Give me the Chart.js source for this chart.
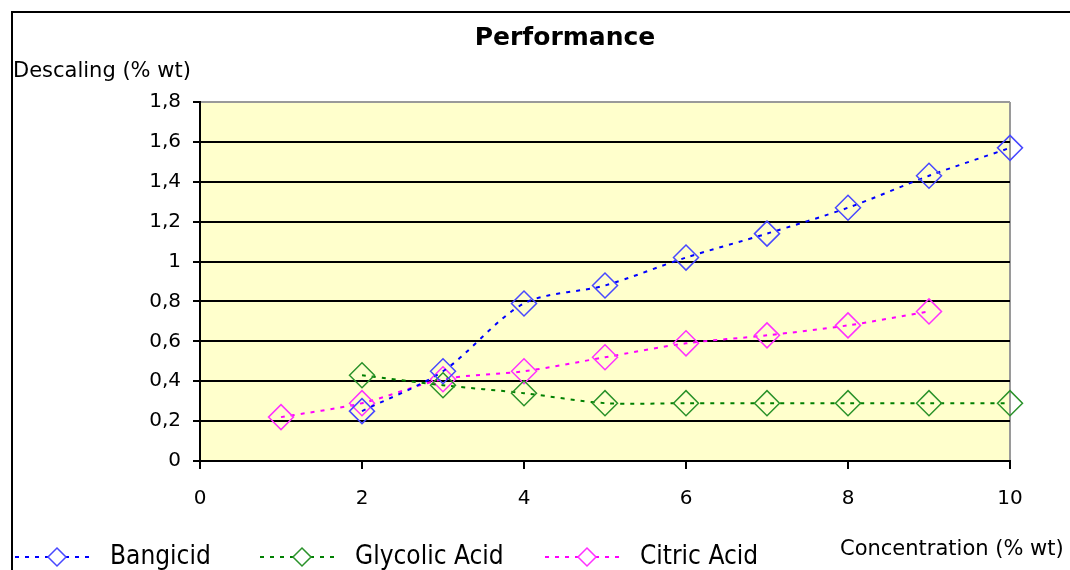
<!DOCTYPE html>
<html>
<head>
<meta charset="utf-8">
<script src="https://cdn.jsdelivr.net/npm/chart.js@4.4.0/dist/chart.umd.min.js"></script>
<style>
  html, body { margin: 0; padding: 0; background: #fff; }
  #wrap { position: relative; width: 1070px; height: 570px; overflow: hidden; }
  #frame { position: absolute; left: 11px; top: 11px; width: 1100px; height: 600px;
           border-left: 2px solid #000; border-top: 2px solid #000; pointer-events: none; }
</style>
</head>
<body>
<div id="wrap">
  <canvas id="chart" width="1070" height="570"></canvas>
  <div id="frame"></div>
</div>
<script>
// concentration (% wt) and descaling (% wt)
const concentrations = [1, 2, 3, 4, 5, 6, 7, 8, 9, 10];
const bangicid = [null, 0.25, 0.45, 0.79, 0.88, 1.02, 1.14, 1.27, 1.43, 1.57];
const glycolic = [null, 0.43, 0.38, 0.34, 0.29, 0.29, 0.29, 0.29, 0.29, 0.29];
const citric = [0.22, 0.29, 0.41, 0.45, 0.52, 0.59, 0.63, 0.68, 0.75, null];
const seriesNames = ['Bangicid', 'Glycolic Acid', 'Citric Acid'];
const xTicks = [0, 2, 4, 6, 8, 10];
const yTicks = [0, 0.2, 0.4, 0.6, 0.8, 1, 1.2, 1.4, 1.6, 1.8];

function points(values) {
    return concentrations
        .map((x, i) => ({ x: x, y: values[i] }))
        .filter(p => p.y !== null);
}

function fmt(v) {
    return String(+v.toFixed(1)).replace('.', ',');
}

const lineColors = ['#0000ff', '#008000', '#ff00ff'];
const markColors = ['#4848ff', '#2a922a', '#ff30ff'];

function makeSet(i, values) {
    return {
        label: seriesNames[i],
        data: points(values),
        borderColor: lineColors[i],
        borderWidth: 2,
        borderDash: [4, 6],
        tension: 0.3,
        pointStyle: 'rectRot',
        pointRadius: 12.5,
        pointHoverRadius: 12.5,
        pointBorderWidth: 1.5,
        pointBorderColor: markColors[i],
        pointBackgroundColor: 'rgba(0,0,0,0)',
        clip: false
    };
}

const decorations = {
    id: 'decorations',
    beforeDraw(chart) {
        const { ctx, chartArea: a } = chart;
        ctx.save();
        ctx.fillStyle = '#ffffcc';
        ctx.fillRect(a.left, a.top, a.right - a.left, a.bottom - a.top);
        ctx.restore();
    },
    afterDraw(chart) {
        const ctx = chart.ctx;
        ctx.save();
        ctx.fillStyle = '#000';
        ctx.font = 'bold 25px "DejaVu Sans"';
        ctx.textAlign = 'center';
        ctx.textBaseline = 'middle';
        ctx.fillText('Performance', 565, 38);

        ctx.font = '21px "DejaVu Sans"';
        ctx.textAlign = 'left';
        ctx.fillText('Descaling (% wt)', 13, 72);
        ctx.fillText('Concentration (% wt)', 840, 550);

        // legend
        const starts = [15, 260, 545];
        chart.data.datasets.forEach((ds, i) => {
            const x0 = starts[i], y = 557;
            ctx.strokeStyle = ds.borderColor;
            ctx.lineWidth = 2;
            ctx.setLineDash([4, 6]);
            ctx.beginPath();
            ctx.moveTo(x0, y);
            ctx.lineTo(x0 + 80, y);
            ctx.stroke();
            ctx.setLineDash([]);
            const cx = x0 + 42;
            ctx.fillStyle = '#fff';
            ctx.strokeStyle = ds.pointBorderColor;
            ctx.lineWidth = 1.5;
            ctx.beginPath();
            ctx.moveTo(cx, y - 9);
            ctx.lineTo(cx + 9, y);
            ctx.lineTo(cx, y + 9);
            ctx.lineTo(cx - 9, y);
            ctx.closePath();
            ctx.fill();
            ctx.stroke();
            ctx.fillStyle = '#000';
            ctx.font = '26px "Liberation Sans Narrow", "DejaVu Sans Condensed", sans-serif';
            ctx.textBaseline = 'middle';
            ctx.fillText(ds.label, x0 + 95, y);
        });
        ctx.restore();
    }
};

document.addEventListener('DOMContentLoaded', function () {
    const ctx = document.getElementById('chart').getContext('2d');
    new Chart(ctx, {
        type: 'line',
        data: {
            datasets: [makeSet(0, bangicid), makeSet(1, glycolic), makeSet(2, citric)]
        },
        options: {
            responsive: false,
            animation: false,
            events: [],
            layout: { padding: { left: 0, top: 102, right: 60, bottom: 59 } },
            plugins: { legend: { display: false }, title: { display: false }, tooltip: { enabled: false } },
            scales: {
                x: {
                    type: 'linear',
                    min: 0,
                    max: 10,
                    afterFit(scale) { scale.height = 50; },
                    afterBuildTicks(scale) { scale.ticks = xTicks.map(v => ({ value: v })); },
                    ticks: { color: '#000', font: { family: 'DejaVu Sans', size: 20 }, padding: 18, maxRotation: 0 },
                    grid: {
                        color: c => (c.tick && c.tick.value === 10 ? '#9a9a9a' : 'rgba(0,0,0,0)'),
                        lineWidth: 2,
                        tickColor: '#000',
                        tickLength: 8
                    },
                    border: { color: '#000', width: 2 }
                },
                y: {
                    min: 0,
                    max: 1.8,
                    afterFit(scale) { scale.width = 200; },
                    afterBuildTicks(scale) { scale.ticks = yTicks.map(v => ({ value: v })); },
                    ticks: { color: '#000', font: { family: 'DejaVu Sans', size: 20 }, padding: 12, callback: v => fmt(v) },
                    grid: {
                        color: c => (c.tick && c.tick.value === 1.8 ? '#9a9a9a' : '#000'),
                        lineWidth: 2,
                        tickColor: '#000',
                        tickLength: 7
                    },
                    border: { color: '#000', width: 2 }
                }
            }
        },
        plugins: [decorations]
    });
});
</script>
</body>
</html>
